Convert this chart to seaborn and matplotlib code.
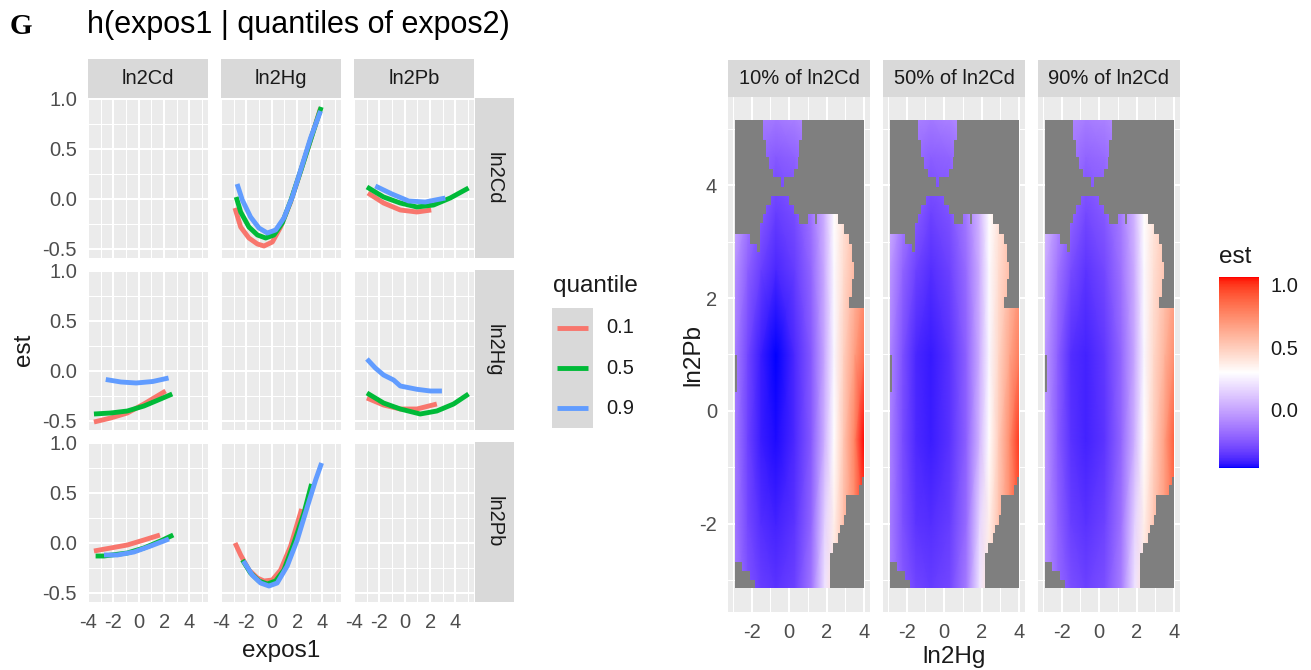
import numpy as np
import pandas as pd
import matplotlib
matplotlib.use("Agg")
import matplotlib.pyplot as plt
import seaborn as sns
from matplotlib.colors import ListedColormap, Normalize
from matplotlib.path import Path
from matplotlib.patches import PathPatch, Rectangle
from matplotlib.cm import ScalarMappable

# ---------------------------------------------------------------- data
expos_names = ["ln2Cd", "ln2Hg", "ln2Pb"]
quantiles = ["0.1", "0.5", "0.9"]
line_colors = ["#F8766D", "#00BA38", "#619CFF"]

# h(expos1 | quantiles of expos2): expos1 = ln2Hg, expos2 = ln2Cd
hg_cd_q1_x = [-2.90, -2.45, -1.80, -1.13, -0.61, 0.05, 0.70, 1.49, 2.28, 3.06, 3.85]
hg_cd_q1_y = [-0.09, -0.28, -0.39, -0.45, -0.47, -0.43, -0.28, -0.03, 0.28, 0.59, 0.91]
hg_cd_q5_x = [-2.80, -2.45, -1.80, -1.13, -0.48, 0.17, 0.83, 1.49, 2.28, 3.06, 3.90]
hg_cd_q5_y = [0.02, -0.13, -0.28, -0.36, -0.39, -0.36, -0.24, -0.02, 0.28, 0.59, 0.92]
hg_cd_q9_x = [-2.73, -2.32, -1.67, -1.01, -0.35, 0.31, 0.96, 1.62, 2.28, 3.06, 3.85]
hg_cd_q9_y = [0.15, -0.01, -0.18, -0.29, -0.34, -0.31, -0.19, 0.02, 0.29, 0.61, 0.88]
# expos1 = ln2Pb, expos2 = ln2Cd
pb_cd_q1_x = [-2.90, -1.67, -0.35, 0.96, 2.09]
pb_cd_q1_y = [0.06, -0.04, -0.11, -0.13, -0.11]
pb_cd_q5_x = [-2.98, -1.67, -0.35, 0.96, 2.27, 3.59, 5.03]
pb_cd_q5_y = [0.12, 0.02, -0.04, -0.08, -0.06, 0.01, 0.11]
pb_cd_q9_x = [-2.32, -1.01, 0.31, 1.62, 3.20]
pb_cd_q9_y = [0.13, 0.05, -0.02, -0.03, 0.01]
# expos1 = ln2Cd, expos2 = ln2Hg
cd_hg_q1_x = [-3.53, -2.21, -0.90, 0.41, 1.46, 2.12]
cd_hg_q1_y = [-0.51, -0.47, -0.42, -0.33, -0.25, -0.20]
cd_hg_q5_x = [-3.53, -2.21, -0.90, 0.41, 1.72, 2.64]
cd_hg_q5_y = [-0.43, -0.42, -0.40, -0.35, -0.28, -0.23]
cd_hg_q9_x = [-2.60, -1.40, -0.20, 1.10, 2.35]
cd_hg_q9_y = [-0.085, -0.11, -0.12, -0.105, -0.07]
# expos1 = ln2Pb, expos2 = ln2Hg
pb_hg_q1_x = [-2.98, -1.67, -0.35, 0.96, 2.53]
pb_hg_q1_y = [-0.27, -0.34, -0.38, -0.38, -0.33]
pb_hg_q5_x = [-2.98, -1.67, -0.35, 1.22, 2.53, 3.85, 5.03]
pb_hg_q5_y = [-0.22, -0.32, -0.38, -0.43, -0.40, -0.33, -0.23]
pb_hg_q9_x = [-2.98, -2.32, -1.67, -0.88, -0.35, 0.96, 2.01, 2.93]
pb_hg_q9_y = [0.12, 0.03, -0.04, -0.09, -0.15, -0.183, -0.20, -0.20]
# expos1 = ln2Cd, expos2 = ln2Pb
cd_pb_q1_x = [-3.53, -2.21, -0.90, 0.41, 1.67]
cd_pb_q1_y = [-0.08, -0.05, -0.02, 0.03, 0.08]
cd_pb_q5_x = [-3.40, -2.74, -0.90, 0.41, 1.72, 2.72]
cd_pb_q5_y = [-0.13, -0.13, -0.10, -0.05, 0.02, 0.08]
cd_pb_q9_x = [-2.74, -1.69, -0.38, 0.94, 2.38]
cd_pb_q9_y = [-0.12, -0.12, -0.09, -0.03, 0.04]
# expos1 = ln2Hg, expos2 = ln2Pb
hg_pb_q1_x = [-2.89, -2.45, -1.80, -1.13, -0.61, 0.05, 0.70, 1.49, 2.36]
hg_pb_q1_y = [0.00, -0.12, -0.27, -0.35, -0.38, -0.37, -0.27, -0.03, 0.34]
hg_pb_q5_x = [-2.31, -1.67, -1.01, -0.35, 0.31, 0.96, 1.75, 2.54, 3.14]
hg_pb_q5_y = [-0.17, -0.30, -0.38, -0.41, -0.38, -0.27, 0.00, 0.30, 0.59]
hg_pb_q9_x = [-2.23, -1.54, -0.88, -0.22, 0.43, 1.22, 2.01, 2.80, 3.46, 3.93]
hg_pb_q9_y = [-0.18, -0.32, -0.40, -0.43, -0.40, -0.23, 0.03, 0.36, 0.63, 0.80]

curve_table = [
    ("ln2Hg", "ln2Cd", hg_cd_q1_x, hg_cd_q1_y, hg_cd_q5_x, hg_cd_q5_y, hg_cd_q9_x, hg_cd_q9_y),
    ("ln2Pb", "ln2Cd", pb_cd_q1_x, pb_cd_q1_y, pb_cd_q5_x, pb_cd_q5_y, pb_cd_q9_x, pb_cd_q9_y),
    ("ln2Cd", "ln2Hg", cd_hg_q1_x, cd_hg_q1_y, cd_hg_q5_x, cd_hg_q5_y, cd_hg_q9_x, cd_hg_q9_y),
    ("ln2Pb", "ln2Hg", pb_hg_q1_x, pb_hg_q1_y, pb_hg_q5_x, pb_hg_q5_y, pb_hg_q9_x, pb_hg_q9_y),
    ("ln2Cd", "ln2Pb", cd_pb_q1_x, cd_pb_q1_y, cd_pb_q5_x, cd_pb_q5_y, cd_pb_q9_x, cd_pb_q9_y),
    ("ln2Hg", "ln2Pb", hg_pb_q1_x, hg_pb_q1_y, hg_pb_q5_x, hg_pb_q5_y, hg_pb_q9_x, hg_pb_q9_y),
]

# heat map: est over ln2Hg (x) and ln2Pb (y) at quantiles of ln2Cd
heat_titles = ["10% of ln2Cd", "50% of ln2Cd", "90% of ln2Cd"]
hg_grid = [-2.95, -2.2, -1.5, -0.7, 0.3, 1.2, 1.9, 2.4, 2.9, 3.5, 4.0]
pb_grid = [-3.2, -2.0, -0.5, 1.0, 2.5, 3.5, 4.5, 5.2]
est_cd10 = [
    [-0.14, -0.27, -0.33, -0.36, -0.32, -0.15, 0.21, 0.42, 0.55, 0.70, 0.85],
    [-0.13, -0.30, -0.38, -0.41, -0.36, -0.20, 0.15, 0.36, 0.55, 0.75, 0.95],
    [-0.12, -0.32, -0.42, -0.45, -0.39, -0.24, 0.05, 0.30, 0.52, 0.78, 1.06],
    [-0.11, -0.31, -0.42, -0.466, -0.39, -0.24, 0.02, 0.27, 0.48, 0.68, 0.84],
    [-0.05, -0.23, -0.33, -0.40, -0.34, -0.20, 0.03, 0.28, 0.44, 0.58, 0.70],
    [0.03, -0.15, -0.25, -0.34, -0.29, -0.16, 0.05, 0.30, 0.42, 0.55, 0.65],
    [0.03, -0.10, -0.20, -0.25, -0.22, -0.15, 0.03, 0.25, 0.40, 0.50, 0.60],
    [0.03, -0.10, -0.13, -0.15, -0.12, -0.09, 0.03, 0.25, 0.40, 0.50, 0.60],
]
est_cd50 = [
    [-0.13, -0.25, -0.31, -0.34, -0.30, -0.13, 0.22, 0.42, 0.55, 0.70, 0.85],
    [-0.12, -0.28, -0.36, -0.38, -0.34, -0.18, 0.16, 0.36, 0.54, 0.73, 0.92],
    [-0.10, -0.29, -0.39, -0.42, -0.37, -0.22, 0.06, 0.30, 0.50, 0.75, 1.00],
    [-0.09, -0.28, -0.40, -0.43, -0.37, -0.22, 0.03, 0.27, 0.46, 0.65, 0.80],
    [-0.03, -0.21, -0.32, -0.38, -0.32, -0.18, 0.04, 0.28, 0.43, 0.56, 0.68],
    [0.05, -0.13, -0.24, -0.32, -0.27, -0.14, 0.06, 0.30, 0.41, 0.53, 0.63],
    [0.05, -0.08, -0.18, -0.23, -0.21, -0.13, 0.04, 0.25, 0.38, 0.48, 0.58],
    [0.05, -0.08, -0.12, -0.14, -0.11, -0.07, 0.04, 0.25, 0.38, 0.48, 0.58],
]
est_cd90 = [
    [-0.06, -0.20, -0.28, -0.32, -0.28, -0.12, 0.21, 0.42, 0.55, 0.68, 0.80],
    [-0.05, -0.22, -0.33, -0.37, -0.32, -0.16, 0.15, 0.36, 0.52, 0.68, 0.84],
    [-0.02, -0.24, -0.37, -0.41, -0.36, -0.20, 0.05, 0.30, 0.48, 0.68, 0.90],
    [-0.02, -0.23, -0.38, -0.41, -0.35, -0.20, 0.02, 0.27, 0.45, 0.60, 0.74],
    [0.03, -0.16, -0.29, -0.36, -0.30, -0.16, 0.04, 0.28, 0.42, 0.53, 0.64],
    [0.09, -0.08, -0.21, -0.30, -0.25, -0.13, 0.06, 0.30, 0.40, 0.50, 0.60],
    [0.09, -0.05, -0.15, -0.21, -0.19, -0.12, 0.04, 0.25, 0.36, 0.45, 0.55],
    [0.09, -0.05, -0.10, -0.13, -0.11, -0.07, 0.04, 0.25, 0.36, 0.45, 0.55],
]
est_values = [est_cd10, est_cd50, est_cd90]

# extent of the tile grid and the outline of cells where est is defined (rest is NA)
tile_hg_range = [-2.91, 3.97]
tile_pb_range = [-3.14, 5.145]
valid_top_hg = [-1.40, 0.675, 0.675, 0.55, 0.55, 0.461, 0.461, 0.28, 0.28, -0.28, -0.28,
                -0.42, -0.42, -0.867, -0.867, -1.05, -1.05, -1.22, -1.22, -1.40]
valid_top_pb = [5.145, 5.145, 4.79, 4.79, 4.496, 4.496, 4.29, 4.29, 4.142, 4.142, 3.965,
                3.965, 4.142, 4.142, 4.29, 4.29, 4.496, 4.496, 4.79, 4.79]
valid_body_hg = [-0.956, -0.016, -0.016, 0.28, 0.28, 0.55, 0.55, 0.995, 0.995, 1.38, 1.38,
                 1.49, 1.49, 2.59, 2.59, 2.944, 2.944, 3.21, 3.21, 3.34, 3.34, 3.44, 3.44,
                 3.34, 3.34, 3.21, 3.21, 3.97, 3.97, 3.87, 3.87, 3.72, 3.72, 3.05, 3.05,
                 2.91, 2.91, 2.73, 2.73, 2.61, 2.61, 2.34, 2.34, 2.20, 2.20, -1.80, -1.80,
                 -2.09, -2.09, -2.534, -2.534, -2.91, -2.91, -2.765, -2.765, -2.91, -2.91,
                 -2.09, -2.09, -1.735, -1.735, -1.576, -1.576, -1.40, -1.40, -1.22, -1.22,
                 -0.956]
valid_body_pb = [3.805, 3.805, 3.64, 3.64, 3.48, 3.48, 3.31, 3.31, 3.48, 3.48, 3.31,
                 3.31, 3.48, 3.48, 3.31, 3.31, 3.139, 3.139, 2.96, 2.96, 2.64, 2.64, 2.34,
                 2.34, 2.02, 2.02, 1.83, 1.83, -1.168, -1.168, -1.315, -1.315, -1.49, -1.49,
                 -1.84, -1.84, -2.02, -2.02, -2.165, -2.165, -2.34, -2.34, -2.52, -2.52,
                 -3.14, -3.14, -2.99, -2.99, -2.83, -2.83, -2.67, -2.67, 0.338, 0.338,
                 0.985, 0.985, 3.139, 3.139, 2.96, 2.96, 2.81, 2.81, 3.32, 3.32, 3.49,
                 3.49, 3.64, 3.64]

# ---------------------------------------------------------------- style
sns.set_theme(style="darkgrid")
plt.rcParams["font.family"] = ["Liberation Sans", "DejaVu Sans"]
plt.rcParams["axes.unicode_minus"] = False

W, H = 1311, 670
fig = plt.figure(figsize=(W / 100, H / 100), dpi=100)
fig.patch.set_facecolor("white")

TICK_FS = 14.5
TITLE_FS = 17.5
TXT_DARK = "#1A1A1A"
TXT_TICK = "#4D4D4D"
LINE_W = 3.5


def px_axes(x0, y0, x1, y1):
    return fig.add_axes([x0 / W, 1 - y1 / H, (x1 - x0) / W, (y1 - y0) / H])


def style_panel(ax, xmaj, xmin, ymaj, ymin):
    ax.set_facecolor("#EBEBEB")
    for s in ax.spines.values():
        s.set_visible(False)
    ax.set_xticks(xmaj)
    ax.set_xticks(xmin, minor=True)
    ax.set_yticks(ymaj)
    ax.set_yticks(ymin, minor=True)
    ax.grid(True, which="major", color="white", linewidth=1.5)
    ax.grid(True, which="minor", color="white", linewidth=0.75)
    ax.set_axisbelow(True)
    ax.tick_params(which="minor", length=0)
    ax.tick_params(which="major", length=5, width=1.1, color="#333333",
                   labelsize=TICK_FS, labelcolor=TXT_TICK, pad=3)
    ax.set_xlabel("")
    ax.set_ylabel("")


def strip(x0, y0, x1, y1, text, rot=0):
    a = px_axes(x0, y0, x1, y1)
    a.set_facecolor("#D9D9D9")
    a.set_xticks([])
    a.set_yticks([])
    a.grid(False)
    for s in a.spines.values():
        s.set_visible(False)
    a.text(0.5, 0.5, text, transform=a.transAxes, ha="center", va="center",
           rotation=rot, fontsize=TICK_FS, color=TXT_DARK)


# ---------------------------------------------------------------- left: facet lines
records = []
for e1, e2, *xy in curve_table:
    for qi, q in enumerate(quantiles):
        xs, ys = xy[2 * qi], xy[2 * qi + 1]
        for k, (xv, yv) in enumerate(zip(xs, ys)):
            records.append({"expos1": e1, "expos2": e2, "quantile": q,
                            "order": k, "x": xv, "est": yv})
df = pd.DataFrame(records)
pal = dict(zip(quantiles, line_colors))

col_px = [(88, 208), (221, 341), (354, 474)]
row_px = [(98, 258), (270, 430), (442, 602)]

for r, e2 in enumerate(expos_names):
    for c, e1 in enumerate(expos_names):
        ax = px_axes(col_px[c][0], row_px[r][0], col_px[c][1], row_px[r][1])
        sub = df[(df.expos1 == e1) & (df.expos2 == e2)]
        if len(sub):
            sns.lineplot(data=sub, x="x", y="est", hue="quantile", hue_order=quantiles,
                         palette=pal, units="quantile", estimator=None, sort=False,
                         legend=False, linewidth=LINE_W, ax=ax)
            for ln in ax.get_lines():
                ln.set_solid_capstyle("butt")
                ln.set_solid_joinstyle("round")
        ax.set_xlim(-3.96, 5.46)
        ax.set_ylim(-0.59, 1.01)
        style_panel(ax, [-4, -2, 0, 2, 4], [-3, -1, 1, 3, 5],
                    [-0.5, 0.0, 0.5, 1.0], [-0.25, 0.25, 0.75])
        ax.set_xticklabels(["-4", "-2", "0", "2", "4"])
        ax.set_yticklabels(["-0.5", "0.0", "0.5", "1.0"])
        if r != 2:
            ax.tick_params(axis="x", which="major", length=0, labelbottom=False)
        if c != 0:
            ax.tick_params(axis="y", which="major", length=0, labelleft=False)

for c, e1 in enumerate(expos_names):
    strip(col_px[c][0], 59, col_px[c][1], 98, e1)
for r, e2 in enumerate(expos_names):
    strip(475, row_px[r][0], 514, row_px[r][1], e2, rot=-90)

fig.text(24 / W, 1 - 350 / H, "est", rotation=90, ha="center", va="center",
         fontsize=TITLE_FS, color=TXT_DARK)
fig.text(281 / W, 1 - 657 / H, "expos1", ha="center", va="baseline",
         fontsize=TITLE_FS, color=TXT_DARK)
fig.text(87 / W, 1 - 33.5 / H, "h(expos1 | quantiles of expos2)", ha="left",
         va="baseline", fontsize=22, color="black")
fig.text(10 / W, 1 - 33.5 / H, "G", ha="left", va="baseline", fontsize=21,
         fontweight="bold", family=["Liberation Serif", "DejaVu Serif"], color="black")

# quantile legend
fig.text(553 / W, 1 - 292 / H, "quantile", ha="left", va="baseline",
         fontsize=TITLE_FS, color=TXT_DARK)
lax = px_axes(552, 308, 593, 428)
lax.set_facecolor("#D9D9D9")
lax.set_xlim(0, 1)
lax.set_ylim(3, 0)
lax.grid(False)
lax.set_xticks([])
lax.set_yticks([])
for s in lax.spines.values():
    s.set_visible(False)
for i, (q, col) in enumerate(zip(quantiles, line_colors)):
    lax.plot([0.12, 0.88], [i + 0.5, i + 0.5], color=col, linewidth=LINE_W,
             solid_capstyle="butt")
    fig.text(606 / W, 1 - (328 + 40 * i) / H, q, ha="left", va="center",
             fontsize=TICK_FS, color=TXT_DARK)

# ---------------------------------------------------------------- right: heat maps
def srgb_to_lab(rgb):
    rgb = np.asarray(rgb, float)
    M = np.array([[0.4124, 0.3576, 0.1805], [0.2126, 0.7152, 0.0722], [0.0193, 0.1192, 0.9505]])
    wp = np.array([0.95047, 1.0, 1.08883])
    lin = np.where(rgb <= 0.04045, rgb / 12.92, ((rgb + 0.055) / 1.055) ** 2.4)
    xyz = (M @ lin) / wp
    d = 6 / 29
    f = np.where(xyz > d ** 3, np.cbrt(xyz), xyz / (3 * d * d) + 4 / 29)
    return np.array([116 * f[1] - 16, 500 * (f[0] - f[1]), 200 * (f[1] - f[2])])


def lab_to_srgb(lab):
    M = np.array([[0.4124, 0.3576, 0.1805], [0.2126, 0.7152, 0.0722], [0.0193, 0.1192, 0.9505]])
    wp = np.array([0.95047, 1.0, 1.08883])
    L, a, b = lab
    fy = (L + 16) / 116
    f = np.array([fy + a / 500, fy, fy - b / 200])
    d = 6 / 29
    xyz = np.where(f > d, f ** 3, 3 * d * d * (f - 4 / 29)) * wp
    lin = np.clip(np.linalg.inv(M) @ xyz, 0, 1)
    return np.where(lin <= 0.0031308, 12.92 * lin, 1.055 * lin ** (1 / 2.4) - 0.055)


lab_lo, lab_mid, lab_hi = srgb_to_lab([0, 0, 1]), srgb_to_lab([1, 1, 1]), srgb_to_lab([1, 0, 0])
cm_cols = []
for t in np.linspace(0, 1, 256):
    if t < 0.5:
        lab = lab_lo + (lab_mid - lab_lo) * (t / 0.5)
    else:
        lab = lab_mid + (lab_hi - lab_mid) * ((t - 0.5) / 0.5)
    cm_cols.append(np.clip(lab_to_srgb(lab), 0, 1))
cmap = ListedColormap(cm_cols)
vmin = float(np.min(est_values))
vmax = float(np.max(est_values))
norm = Normalize(vmin=vmin, vmax=vmax)

heat_px = [(728, 870), (883, 1025), (1038, 1180)]
HX, HY = np.meshgrid(hg_grid, pb_grid)
for i, (title, est) in enumerate(zip(heat_titles, est_values)):
    ax = px_axes(heat_px[i][0], 97, heat_px[i][1], 612)
    ax.set_xlim(-3.26, 4.31)
    ax.set_ylim(-3.56, 5.56)
    style_panel(ax, [-2, 0, 2, 4], [-3, -1, 1, 3], [-2, 0, 2, 4], [-3, -1, 1, 3, 5])
    ax.set_xticklabels(["-2", "0", "2", "4"])
    ax.set_yticklabels(["-2", "0", "2", "4"])
    if i != 0:
        ax.tick_params(axis="y", which="major", length=0, labelleft=False)
    ax.add_patch(Rectangle((tile_hg_range[0], tile_pb_range[0]),
                           tile_hg_range[1] - tile_hg_range[0],
                           tile_pb_range[1] - tile_pb_range[0],
                           facecolor="#7F7F7F", edgecolor="none", zorder=1))
    mesh = ax.pcolormesh(HX, HY, np.array(est), shading="gouraud", cmap=cmap,
                         norm=norm, zorder=2)
    verts, codes = [], []
    for hs, ps in [(valid_top_hg, valid_top_pb), (valid_body_hg, valid_body_pb)]:
        pts = list(zip(hs, ps))
        verts += pts + [pts[0]]
        codes += [Path.MOVETO] + [Path.LINETO] * (len(pts) - 1) + [Path.CLOSEPOLY]
    clip = PathPatch(Path(verts, codes), transform=ax.transData,
                     facecolor="none", edgecolor="none")
    ax.add_patch(clip)
    mesh.set_clip_path(clip)
    strip(heat_px[i][0], 60, heat_px[i][1], 97, title)

fig.text(954 / W, 1 - 663 / H, "ln2Hg", ha="center", va="baseline",
         fontsize=TITLE_FS, color=TXT_DARK)
fig.text(693 / W, 1 - 354.5 / H, "ln2Pb", rotation=90, ha="center", va="center",
         fontsize=TITLE_FS, color=TXT_DARK)

# colour bar
fig.text(1219 / W, 1 - 263 / H, "est", ha="left", va="baseline",
         fontsize=TITLE_FS, color=TXT_DARK)
cax = px_axes(1219, 277, 1259, 468)
cb = fig.colorbar(ScalarMappable(norm=norm, cmap=cmap), cax=cax)
cb.outline.set_visible(False)
cax.grid(False)
cb.set_ticks([0.0, 0.5, 1.0])
cb.set_ticklabels(["0.0", "0.5", "1.0"])
cax.yaxis.set_ticks_position("both")
cax.tick_params(axis="y", which="major", direction="in", length=7, width=0.9,
                color="white", labelsize=TICK_FS, labelcolor=TXT_DARK,
                labelleft=False, labelright=True, pad=8)
cax.tick_params(axis="y", which="minor", length=0)

fig.savefig("out.png", dpi=100)
